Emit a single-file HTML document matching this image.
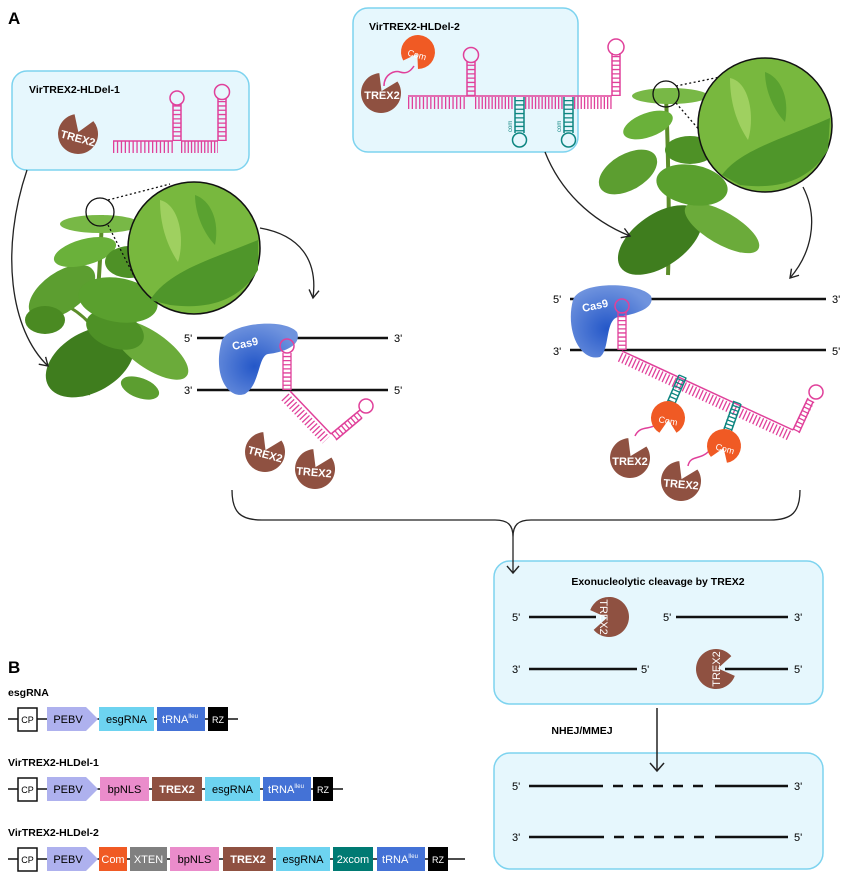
<!DOCTYPE html>
<html><head><meta charset="utf-8"><style>
html,body{margin:0;padding:0;background:#fff}
svg{display:block}
text{font-family:"Liberation Sans",Arial,sans-serif}
</style></head><body>
<svg width="846" height="882" viewBox="0 0 846 882" xmlns="http://www.w3.org/2000/svg">
<defs>
<radialGradient id="cg" cx="0.45" cy="0.6" r="0.6"><stop offset="0" stop-color="#2457c8"/><stop offset="1" stop-color="#6f93de"/></radialGradient>
<path id="pac" d="M0,-2 L12.9,-15.3 A20 20 0 1 1 -6.8,-18.8 Z" fill="#8f5141"/>
<path id="com" d="M0,-2 L11,-13 A17 17 0 1 1 -5.8,-16 Z" fill="#f05a24" transform="rotate(180)"/>
<marker id="ah" markerWidth="12" markerHeight="12" refX="10" refY="6" orient="auto" markerUnits="userSpaceOnUse"><path d="M2,1 L10,6 L2,11" fill="none" stroke="#222" stroke-width="1.4"/></marker>
</defs>

<text x="8" y="24" font-size="17" font-weight="bold">A</text>
<text x="8" y="673" font-size="17" font-weight="bold">B</text>

<!-- Left plant -->
<g>
<path d="M88,395 C95,330 100,280 102,215" stroke="#5c8d2a" stroke-width="4" fill="none"/>
<path d="M95,330 C80,310 60,300 45,300" stroke="#5c8d2a" stroke-width="3" fill="none"/>
<ellipse cx="90" cy="362" rx="48" ry="30" fill="#3f7d1e" transform="rotate(-30 90 362)"/>
<ellipse cx="150" cy="350" rx="45" ry="18" fill="#6bab3a" transform="rotate(35 150 350)"/>
<ellipse cx="115" cy="330" rx="30" ry="18" fill="#4e9126" transform="rotate(20 115 330)"/>
<ellipse cx="62" cy="292" rx="38" ry="20" fill="#5c9e30" transform="rotate(-35 62 292)"/>
<ellipse cx="45" cy="320" rx="20" ry="14" fill="#4a8a22"/>
<ellipse cx="118" cy="300" rx="40" ry="22" fill="#5aa02e" transform="rotate(10 118 300)"/>
<ellipse cx="85" cy="252" rx="32" ry="13" fill="#6ab13a" transform="rotate(-15 85 252)"/>
<ellipse cx="130" cy="262" rx="25" ry="16" fill="#4e9126"/>
<ellipse cx="100" cy="224" rx="40" ry="9" fill="#78b846"/>
<ellipse cx="140" cy="388" rx="20" ry="10" fill="#5c9e30" transform="rotate(20 140 388)"/>
<circle cx="100" cy="212" r="14" fill="none" stroke="#111" stroke-width="1.3"/>
<line x1="108" y1="200" x2="170" y2="184" stroke="#111" stroke-width="1.3" stroke-dasharray="2 2.5"/>
<line x1="108" y1="225" x2="135" y2="278" stroke="#111" stroke-width="1.3" stroke-dasharray="2 2.5"/>
<circle cx="194" cy="248" r="66" fill="#78b83e" stroke="#111" stroke-width="1.5"/>
<path d="M150,300 C170,270 210,260 258,240 L258,270 C240,300 210,310 170,305 Z" fill="#4f962a"/>
<path d="M160,200 C180,205 185,240 178,262 C170,250 160,230 160,200 Z" fill="#9fd060"/>
<path d="M195,195 C210,200 220,220 215,245 C205,235 195,215 195,195 Z" fill="#5aa230"/>
</g>

<!-- Right plant -->
<g>
<path d="M668,275 C670,220 668,150 666,95" stroke="#5c8d2a" stroke-width="4" fill="none"/>
<ellipse cx="660" cy="240" rx="48" ry="26" fill="#3f7d1e" transform="rotate(-35 660 240)"/>
<ellipse cx="722" cy="228" rx="42" ry="16" fill="#6bab3a" transform="rotate(30 722 228)"/>
<ellipse cx="628" cy="172" rx="32" ry="18" fill="#5c9e30" transform="rotate(-30 628 172)"/>
<ellipse cx="692" cy="185" rx="36" ry="20" fill="#5aa02e" transform="rotate(10 692 185)"/>
<ellipse cx="690" cy="150" rx="25" ry="14" fill="#4e9126"/>
<ellipse cx="648" cy="125" rx="26" ry="12" fill="#6ab13a" transform="rotate(-20 648 125)"/>
<ellipse cx="670" cy="96" rx="38" ry="8" fill="#78b846"/>
<circle cx="666" cy="94" r="13" fill="none" stroke="#111" stroke-width="1.3"/>
<line x1="676" y1="86" x2="720" y2="77" stroke="#111" stroke-width="1.3" stroke-dasharray="2 2.5"/>
<line x1="676" y1="103" x2="708" y2="140" stroke="#111" stroke-width="1.3" stroke-dasharray="2 2.5"/>
<circle cx="765" cy="125" r="67" fill="#78b83e" stroke="#111" stroke-width="1.5"/>
<path d="M722,175 C740,150 780,140 830,118 L828,150 C810,180 780,190 740,185 Z" fill="#4f962a"/>
<path d="M730,78 C750,82 755,118 748,140 C740,128 730,108 730,78 Z" fill="#9fd060"/>
<path d="M765,72 C780,77 790,97 785,122 C775,112 765,92 765,72 Z" fill="#5aa230"/>
</g>

<!-- Box 1 -->
<rect x="12" y="71" width="237" height="99" rx="15" fill="#e6f7fd" stroke="#7dd3ef" stroke-width="1.5"/>
<text x="29" y="93" font-size="10.5" font-weight="bold">VirTREX2-HLDel-1</text>
<use href="#pac" transform="translate(78,134) rotate(10)"/>
<text x="78" y="142" font-size="11" font-weight="bold" fill="#fff" text-anchor="middle" transform="rotate(15 78 138)">TREX2</text>
<g stroke="#e0409a" fill="none">
<line x1="113" y1="141" x2="173" y2="141" stroke-width="1.5"/>
<line x1="181" y1="141" x2="218" y2="141" stroke-width="1.5"/>
<line x1="113" y1="147" x2="173" y2="147" stroke-width="12" stroke-dasharray="1.3 2.6"/>
<line x1="181" y1="147" x2="218" y2="147" stroke-width="12" stroke-dasharray="1.3 2"/>
<line x1="173" y1="141" x2="173" y2="104" stroke-width="1.5"/><line x1="181" y1="141" x2="181" y2="104" stroke-width="1.5"/>
<line x1="177" y1="141" x2="177" y2="104" stroke-width="8" stroke-dasharray="1.3 3"/>
<circle cx="177" cy="98" r="7" stroke-width="1.5"/>
<line x1="218" y1="141" x2="218" y2="98" stroke-width="1.5"/><line x1="226" y1="141" x2="226" y2="98" stroke-width="1.5"/>
<line x1="222" y1="141" x2="222" y2="98" stroke-width="8" stroke-dasharray="1.3 3"/>
<circle cx="222" cy="92" r="7.5" stroke-width="1.5"/>
</g>

<!-- Box 2 -->
<rect x="353" y="8" width="225" height="144" rx="15" fill="#e6f7fd" stroke="#7dd3ef" stroke-width="1.5"/>
<text x="369" y="30" font-size="10.5" font-weight="bold">VirTREX2-HLDel-2</text>
<use href="#com" transform="translate(418,52) rotate(20)"/>
<text x="417" y="58" font-size="9" fill="#fff" text-anchor="middle" transform="rotate(15 417 55)">Com</text>
<path d="M384,86 C384,74 395,70 400,72 C406,74 410,72 414,66" stroke="#e0409a" fill="none" stroke-width="1.5"/>
<use href="#pac" transform="translate(381,93) rotate(15)"/>
<text x="382" y="99" font-size="11" font-weight="bold" fill="#fff" text-anchor="middle">TREX2</text>
<g stroke="#e0409a" fill="none">
<line x1="408" y1="96" x2="612" y2="96" stroke-width="1.5"/>
<line x1="408" y1="103" x2="467" y2="103" stroke-width="12" stroke-dasharray="1.3 2.4"/>
<line x1="475" y1="103" x2="514" y2="103" stroke-width="12" stroke-dasharray="1.3 2"/>
<line x1="525" y1="103" x2="563" y2="103" stroke-width="12" stroke-dasharray="1.3 2"/>
<line x1="574" y1="103" x2="612" y2="103" stroke-width="12" stroke-dasharray="1.3 2"/>
<line x1="467" y1="96" x2="467" y2="62" stroke-width="1.5"/><line x1="475" y1="96" x2="475" y2="62" stroke-width="1.5"/>
<line x1="471" y1="96" x2="471" y2="62" stroke-width="8" stroke-dasharray="1.3 3"/>
<circle cx="471" cy="55" r="7.5" stroke-width="1.5"/>
<line x1="612" y1="96" x2="612" y2="53" stroke-width="1.5"/><line x1="620" y1="96" x2="620" y2="53" stroke-width="1.5"/>
<line x1="616" y1="96" x2="616" y2="53" stroke-width="8" stroke-dasharray="1.3 3"/>
<circle cx="616" cy="47" r="8" stroke-width="1.5"/>
</g>
<g stroke="#0d8580" fill="none">
<line x1="515" y1="97" x2="515" y2="133" stroke-width="1.5"/><line x1="524" y1="97" x2="524" y2="133" stroke-width="1.5"/>
<line x1="519.5" y1="100" x2="519.5" y2="133" stroke-width="9" stroke-dasharray="1.3 3"/>
<circle cx="519.5" cy="140" r="7" stroke-width="1.5"/>
<line x1="564" y1="97" x2="564" y2="133" stroke-width="1.5"/><line x1="573" y1="97" x2="573" y2="133" stroke-width="1.5"/>
<line x1="568.5" y1="100" x2="568.5" y2="133" stroke-width="9" stroke-dasharray="1.3 3"/>
<circle cx="568.5" cy="140" r="7" stroke-width="1.5"/>
</g>
<text x="512" y="132" font-size="6" fill="#0d8580" transform="rotate(-90 512 132)">com</text>
<text x="561" y="132" font-size="6" fill="#0d8580" transform="rotate(-90 561 132)">com</text>

<!-- curved arrows -->
<g fill="none" stroke="#222" stroke-width="1.3">
<path d="M27,170 C0,250 10,330 48,366" marker-end="url(#ah)"/>
<path d="M545,152 C560,190 590,220 630,236" marker-end="url(#ah)"/>
<path d="M260,228 C300,235 318,260 313,298" marker-end="url(#ah)"/>
<path d="M803,187 C820,220 810,255 790,278" marker-end="url(#ah)"/>
</g>

<!-- Left DNA -->
<text x="184" y="342" font-size="11">5'</text><text x="394" y="342" font-size="11">3'</text>
<text x="184" y="394" font-size="11">3'</text><text x="394" y="394" font-size="11">5'</text>
<line x1="197" y1="338" x2="388" y2="338" stroke="#111" stroke-width="2.5"/>
<line x1="197" y1="390" x2="388" y2="390" stroke="#111" stroke-width="2.5"/>
<path d="M222,340 C232,322 285,318 297,332 C302,345 285,352 268,354 C258,356 260,385 245,394 C228,400 212,375 222,340 Z" fill="url(#cg)"/>
<text x="233" y="350" font-size="11" font-weight="bold" fill="#fff" transform="rotate(-12 233 350)">Cas9</text>
<g stroke="#e0409a" fill="none">
<line x1="283" y1="390" x2="283" y2="353" stroke-width="1.3"/><line x1="291" y1="390" x2="291" y2="353" stroke-width="1.3"/>
<line x1="287" y1="390" x2="287" y2="353" stroke-width="8" stroke-dasharray="1.3 2.8"/>
<circle cx="287" cy="346" r="7" stroke-width="1.5"/>
<line x1="290" y1="391" x2="331" y2="434" stroke-width="1.5"/>
<line x1="285" y1="397" x2="326" y2="440" stroke-width="10" stroke-dasharray="1.3 2.4"/>
<line x1="331" y1="434" x2="360" y2="410" stroke-width="1.5"/>
<line x1="336" y1="440" x2="362" y2="418" stroke-width="1.5"/>
<line x1="334" y1="437" x2="361" y2="414" stroke-width="8" stroke-dasharray="1.3 2.8"/>
<circle cx="366" cy="406" r="7" stroke-width="1.5"/>
</g>
<use href="#pac" transform="translate(265,452) rotate(15)"/>
<text x="265" y="458" font-size="11" font-weight="bold" fill="#fff" text-anchor="middle" transform="rotate(15 265 455)">TREX2</text>
<use href="#pac" transform="translate(315,469) rotate(15)"/>
<text x="314" y="476" font-size="11" font-weight="bold" fill="#fff" text-anchor="middle" transform="rotate(5 314 472)">TREX2</text>

<!-- Right DNA -->
<text x="553" y="303" font-size="11">5'</text><text x="832" y="303" font-size="11">3'</text>
<text x="553" y="355" font-size="11">3'</text><text x="832" y="355" font-size="11">5'</text>
<line x1="570" y1="299" x2="826" y2="299" stroke="#111" stroke-width="2.5"/>
<line x1="570" y1="350" x2="826" y2="350" stroke="#111" stroke-width="2.5"/>
<path d="M573,300 C580,280 640,282 651,296 C656,310 630,315 618,317 C605,320 610,350 600,357 C580,362 565,330 573,300 Z" fill="url(#cg)"/>
<text x="583" y="312" font-size="11" font-weight="bold" fill="#fff" transform="rotate(-12 583 312)">Cas9</text>
<g stroke="#e0409a" fill="none">
<line x1="618" y1="350" x2="618" y2="312" stroke-width="1.3"/><line x1="626" y1="350" x2="626" y2="312" stroke-width="1.3"/>
<line x1="622" y1="350" x2="622" y2="312" stroke-width="8" stroke-dasharray="1.3 2.8"/>
<circle cx="622" cy="306" r="7" stroke-width="1.5"/>
<line x1="622" y1="351" x2="793" y2="430" stroke-width="1.5"/>
<line x1="620" y1="357" x2="790" y2="436" stroke-width="10" stroke-dasharray="1.3 2.4"/>
<line x1="793" y1="430" x2="808" y2="398" stroke-width="1.5"/>
<line x1="799" y1="433" x2="813" y2="402" stroke-width="1.5"/>
<line x1="796" y1="431" x2="811" y2="400" stroke-width="8" stroke-dasharray="1.3 2.8"/>
<circle cx="816" cy="392" r="7" stroke-width="1.5"/>
<path d="M635,436 C640,425 650,430 655,425 C660,420 668,418 665,410" stroke-width="1.5"/>
<path d="M688,466 C690,455 700,460 708,452 C715,445 720,448 722,440" stroke-width="1.5"/>
</g>
<g stroke="#0d8580" fill="none">
<line x1="679" y1="375" x2="666" y2="405" stroke-width="1.5"/><line x1="686" y1="378" x2="673" y2="408" stroke-width="1.5"/>
<line x1="683" y1="376" x2="670" y2="406" stroke-width="8" stroke-dasharray="1.3 2.6"/>
<circle cx="665" cy="412" r="6.5" stroke-width="1.5"/>
<line x1="734" y1="401" x2="723" y2="432" stroke-width="1.5"/><line x1="741" y1="404" x2="730" y2="435" stroke-width="1.5"/>
<line x1="737" y1="402" x2="726" y2="433" stroke-width="8" stroke-dasharray="1.3 2.6"/>
<circle cx="722" cy="437" r="6.5" stroke-width="1.5"/>
</g>
<use href="#com" transform="translate(668,418) rotate(-10)"/>
<text x="668" y="424" font-size="9" fill="#fff" text-anchor="middle" transform="rotate(10 668 421)">Com</text>
<use href="#com" transform="translate(724,446) rotate(10)"/>
<text x="725" y="452" font-size="9" fill="#fff" text-anchor="middle" transform="rotate(15 725 449)">Com</text>
<use href="#pac" transform="translate(630,458) rotate(15)"/>
<text x="630" y="465" font-size="11" font-weight="bold" fill="#fff" text-anchor="middle">TREX2</text>
<use href="#pac" transform="translate(681,481) rotate(15)"/>
<text x="681" y="488" font-size="11" font-weight="bold" fill="#fff" text-anchor="middle" transform="rotate(5 681 485)">TREX2</text>

<!-- brace -->
<path d="M232,490 C232,512 240,520 262,520 L495,520 C508,520 513,525 513,537 C513,525 518,520 531,520 L770,520 C792,520 800,512 800,490" fill="none" stroke="#222" stroke-width="1.3"/>

<!-- Box C -->
<rect x="494" y="561" width="329" height="143" rx="16" fill="#e6f7fd" stroke="#7dd3ef" stroke-width="1.5"/>
<line x1="513" y1="537" x2="513" y2="573" stroke="#222" stroke-width="1.3"/>
<path d="M507,566 L513,573 L519,566" fill="none" stroke="#222" stroke-width="1.4"/>
<text x="658" y="585" font-size="10.5" font-weight="bold" text-anchor="middle">Exonucleolytic cleavage by TREX2</text>
<text x="512" y="621" font-size="11">5'</text>
<line x1="529" y1="617" x2="596" y2="617" stroke="#111" stroke-width="2.5"/>
<use href="#pac" transform="translate(609,617) rotate(-110)"/>
<text x="600" y="617" font-size="11" fill="#fff" transform="rotate(90 600 617)" text-anchor="middle">TREX2</text>
<text x="663" y="621" font-size="11">5'</text>
<line x1="676" y1="617" x2="788" y2="617" stroke="#111" stroke-width="2.5"/><text x="794" y="621" font-size="11">3'</text>
<text x="512" y="673" font-size="11">3'</text>
<line x1="529" y1="669" x2="637" y2="669" stroke="#111" stroke-width="2.5"/><text x="641" y="673" font-size="11">5'</text>
<use href="#pac" transform="translate(716,669) rotate(70)"/>
<text x="716" y="669" font-size="11" fill="#fff" transform="rotate(-90 716 669)" text-anchor="middle" dy="4">TREX2</text>
<line x1="725" y1="669" x2="788" y2="669" stroke="#111" stroke-width="2.5"/><text x="794" y="673" font-size="11">5'</text>

<text x="582" y="734" font-size="10.5" font-weight="bold" text-anchor="middle">NHEJ/MMEJ</text>

<!-- Box D -->
<rect x="494" y="753" width="329" height="116" rx="16" fill="#e6f7fd" stroke="#7dd3ef" stroke-width="1.5"/>
<line x1="657" y1="708" x2="657" y2="771" stroke="#222" stroke-width="1.5"/>
<path d="M650,763 L657,771 L664,763" fill="none" stroke="#222" stroke-width="1.5"/>
<text x="512" y="790" font-size="11">5'</text><text x="794" y="790" font-size="11">3'</text>
<text x="512" y="841" font-size="11">3'</text><text x="794" y="841" font-size="11">5'</text>
<g stroke="#111" stroke-width="2.5">
<line x1="529" y1="786" x2="603" y2="786"/><line x1="613" y1="786" x2="708" y2="786" stroke-dasharray="10 10"/><line x1="715" y1="786" x2="788" y2="786"/>
<line x1="529" y1="837" x2="604" y2="837"/><line x1="614" y1="837" x2="708" y2="837" stroke-dasharray="10 10"/><line x1="715" y1="837" x2="788" y2="837"/>
</g>

<!-- B constructs -->
<g font-size="11">
<text x="8" y="696" font-size="10.5" font-weight="bold">esgRNA</text>
<line x1="8" y1="719" x2="238" y2="719" stroke="#111" stroke-width="1.5"/>
<rect x="18" y="708" width="19" height="23" fill="#fff" stroke="#111" stroke-width="1.5"/><text x="27.5" y="723" font-size="9" text-anchor="middle">CP</text>
<path d="M47,707 L86,707 L98,719 L86,731 L47,731 Z" fill="#aeb1ee"/><text x="68" y="723" text-anchor="middle">PEBV</text>
<rect x="99" y="707" width="55" height="24" fill="#6dd3f0"/><text x="126.5" y="723" text-anchor="middle">esgRNA</text>
<rect x="157" y="707" width="48" height="24" fill="#4472d6"/><text x="180" y="723" text-anchor="middle" fill="#fff">tRNA<tspan font-size="6" dy="-5">Ileu</tspan></text>
<rect x="208" y="707" width="20" height="24" fill="#000"/><text x="218" y="723" text-anchor="middle" fill="#fff" font-size="9">RZ</text>

<text x="8" y="766" font-size="10.5" font-weight="bold">VirTREX2-HLDel-1</text>
<line x1="8" y1="789" x2="343" y2="789" stroke="#111" stroke-width="1.5"/>
<rect x="18" y="778" width="19" height="23" fill="#fff" stroke="#111" stroke-width="1.5"/><text x="27.5" y="793" font-size="9" text-anchor="middle">CP</text>
<path d="M47,777 L86,777 L98,789 L86,801 L47,801 Z" fill="#aeb1ee"/><text x="68" y="793" text-anchor="middle">PEBV</text>
<rect x="100" y="777" width="49" height="24" fill="#ea8ccb"/><text x="124.5" y="793" text-anchor="middle">bpNLS</text>
<rect x="152" y="777" width="50" height="24" fill="#8f5141"/><text x="177" y="793" text-anchor="middle" fill="#fff" font-weight="bold">TREX2</text>
<rect x="205" y="777" width="55" height="24" fill="#6dd3f0"/><text x="232.5" y="793" text-anchor="middle">esgRNA</text>
<rect x="263" y="777" width="48" height="24" fill="#4472d6"/><text x="286" y="793" text-anchor="middle" fill="#fff">tRNA<tspan font-size="6" dy="-5">Ileu</tspan></text>
<rect x="313" y="777" width="20" height="24" fill="#000"/><text x="323" y="793" text-anchor="middle" fill="#fff" font-size="9">RZ</text>

<text x="8" y="836" font-size="10.5" font-weight="bold">VirTREX2-HLDel-2</text>
<line x1="8" y1="859" x2="465" y2="859" stroke="#111" stroke-width="1.5"/>
<rect x="18" y="848" width="19" height="23" fill="#fff" stroke="#111" stroke-width="1.5"/><text x="27.5" y="863" font-size="9" text-anchor="middle">CP</text>
<path d="M47,847 L86,847 L98,859 L86,871 L47,871 Z" fill="#aeb1ee"/><text x="68" y="863" text-anchor="middle">PEBV</text>
<rect x="99" y="847" width="28" height="24" fill="#f05a24"/><text x="113" y="863" text-anchor="middle" fill="#fff">Com</text>
<rect x="130" y="847" width="37" height="24" fill="#808080"/><text x="148.5" y="863" text-anchor="middle" fill="#fff">XTEN</text>
<rect x="170" y="847" width="49" height="24" fill="#ea8ccb"/><text x="194.5" y="863" text-anchor="middle">bpNLS</text>
<rect x="223" y="847" width="50" height="24" fill="#8f5141"/><text x="248" y="863" text-anchor="middle" fill="#fff" font-weight="bold">TREX2</text>
<rect x="276" y="847" width="54" height="24" fill="#6dd3f0"/><text x="303" y="863" text-anchor="middle">esgRNA</text>
<rect x="333" y="847" width="40" height="24" fill="#007a73"/><text x="353" y="863" text-anchor="middle" fill="#fff">2xcom</text>
<rect x="377" y="847" width="48" height="24" fill="#4472d6"/><text x="400" y="863" text-anchor="middle" fill="#fff">tRNA<tspan font-size="6" dy="-5">Ileu</tspan></text>
<rect x="428" y="847" width="20" height="24" fill="#000"/><text x="438" y="863" text-anchor="middle" fill="#fff" font-size="9">RZ</text>
</g>
</svg>
</body></html>
